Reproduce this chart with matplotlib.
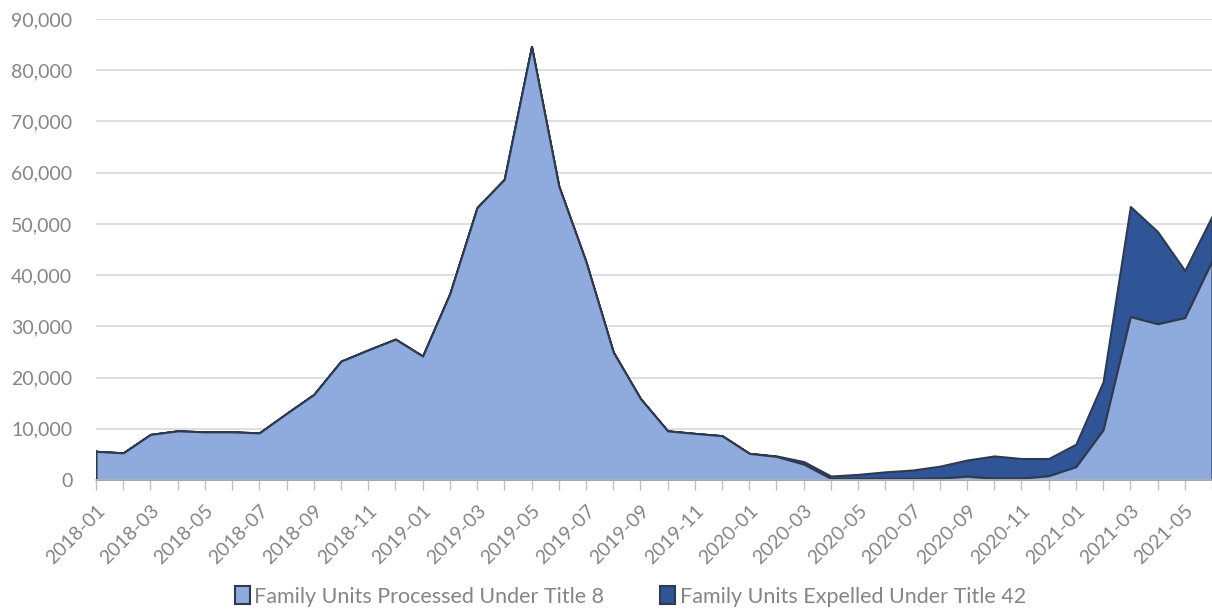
import numpy as np
import matplotlib.pyplot as plt
from matplotlib.patches import Patch
from matplotlib.ticker import FuncFormatter

# monthly family unit encounters, Jan 2018 - Jun 2021
months = ["2018-01", "2018-02", "2018-03", "2018-04", "2018-05", "2018-06",
          "2018-07", "2018-08", "2018-09", "2018-10", "2018-11", "2018-12",
          "2019-01", "2019-02", "2019-03", "2019-04", "2019-05", "2019-06",
          "2019-07", "2019-08", "2019-09", "2019-10", "2019-11", "2019-12",
          "2020-01", "2020-02", "2020-03", "2020-04", "2020-05", "2020-06",
          "2020-07", "2020-08", "2020-09", "2020-10", "2020-11", "2020-12",
          "2021-01", "2021-02", "2021-03", "2021-04", "2021-05", "2021-06"]

title8 = [5600, 5300, 8900, 9600, 9400, 9400,
          9200, 13000, 16700, 23200, 25400, 27500,
          24200, 36400, 53200, 58700, 84600, 57400,
          42600, 25000, 15900, 9600, 9100, 8650,
          5200, 4600, 3100, 300, 300, 300,
          300, 350, 750, 330, 350, 850,
          2600, 9800, 31900, 30500, 31700, 42800]

title42 = [0, 0, 0, 0, 0, 0,
           0, 0, 0, 0, 0, 0,
           0, 0, 0, 0, 0, 0,
           0, 0, 0, 0, 0, 0,
           0, 100, 500, 480, 800, 1300,
           1650, 2350, 3150, 4370, 3850, 3350,
           4400, 9400, 21500, 18000, 9200, 8700]

series_names = ["Family Units Processed Under Title 8",
                "Family Units Expelled Under Title 42"]

plt.rcParams["font.family"] = ["Lato", "DejaVu Sans"]

light = "#8FAADC"
dark = "#2F5597"
edge = "#2E3A50"
grey = "#858585"

x = np.arange(len(months))
t8 = np.array(title8)
total = t8 + np.array(title42)

fig = plt.figure(figsize=(12.12, 6.09), dpi=100)
ax = fig.add_axes([0.0792, 0.2118, 0.9208, 0.757])

ax.fill_between(x, total, t8, facecolor=dark, edgecolor=edge, lw=1.5, zorder=2)
ax.fill_between(x, t8, 0, facecolor=light, edgecolor=edge, lw=1.5, zorder=3)
ax.plot([0, 0], [0, total[0]], color=edge, lw=1.5, zorder=4)

ax.set_xlim(0, 40.73)
ax.set_ylim(0, 90000)
ax.set_yticks(np.arange(0, 90001, 10000))
ax.yaxis.set_major_formatter(FuncFormatter(lambda v, p: f"{int(v):,}"))
ax.grid(axis="y", color="#D9D9D9", lw=1.2, zorder=0)
ax.set_axisbelow(True)

ax.set_xticks(x[::2])
ax.set_xticklabels(months[::2], rotation=45, ha="right", va="top",
                   rotation_mode="anchor")
ax.set_xticks(x, minor=True)

for s in ["top", "right", "left"]:
    ax.spines[s].set_visible(False)
ax.spines["bottom"].set_color("#BFBFBF")
ax.spines["bottom"].set_linewidth(1.2)
ax.spines["bottom"].set_zorder(5)

ax.tick_params(axis="y", length=0, labelsize=14, labelcolor=grey, pad=17)
ax.tick_params(axis="x", which="both", length=7, color="#BFBFBF", width=1)
ax.tick_params(axis="x", labelsize=14, labelcolor=grey, pad=9)

handles = [Patch(facecolor=light, edgecolor=edge, lw=1.5),
           Patch(facecolor=dark, edgecolor=edge, lw=1.5)]
fig.legend(handles, series_names, loc="lower center", ncol=2, frameon=False,
           bbox_to_anchor=(0.52, -0.028), fontsize=15.5, handlelength=0.7,
           handleheight=0.9, handletextpad=0.2, columnspacing=2.6,
           labelcolor=grey)

fig.savefig("out.png", dpi=100)
